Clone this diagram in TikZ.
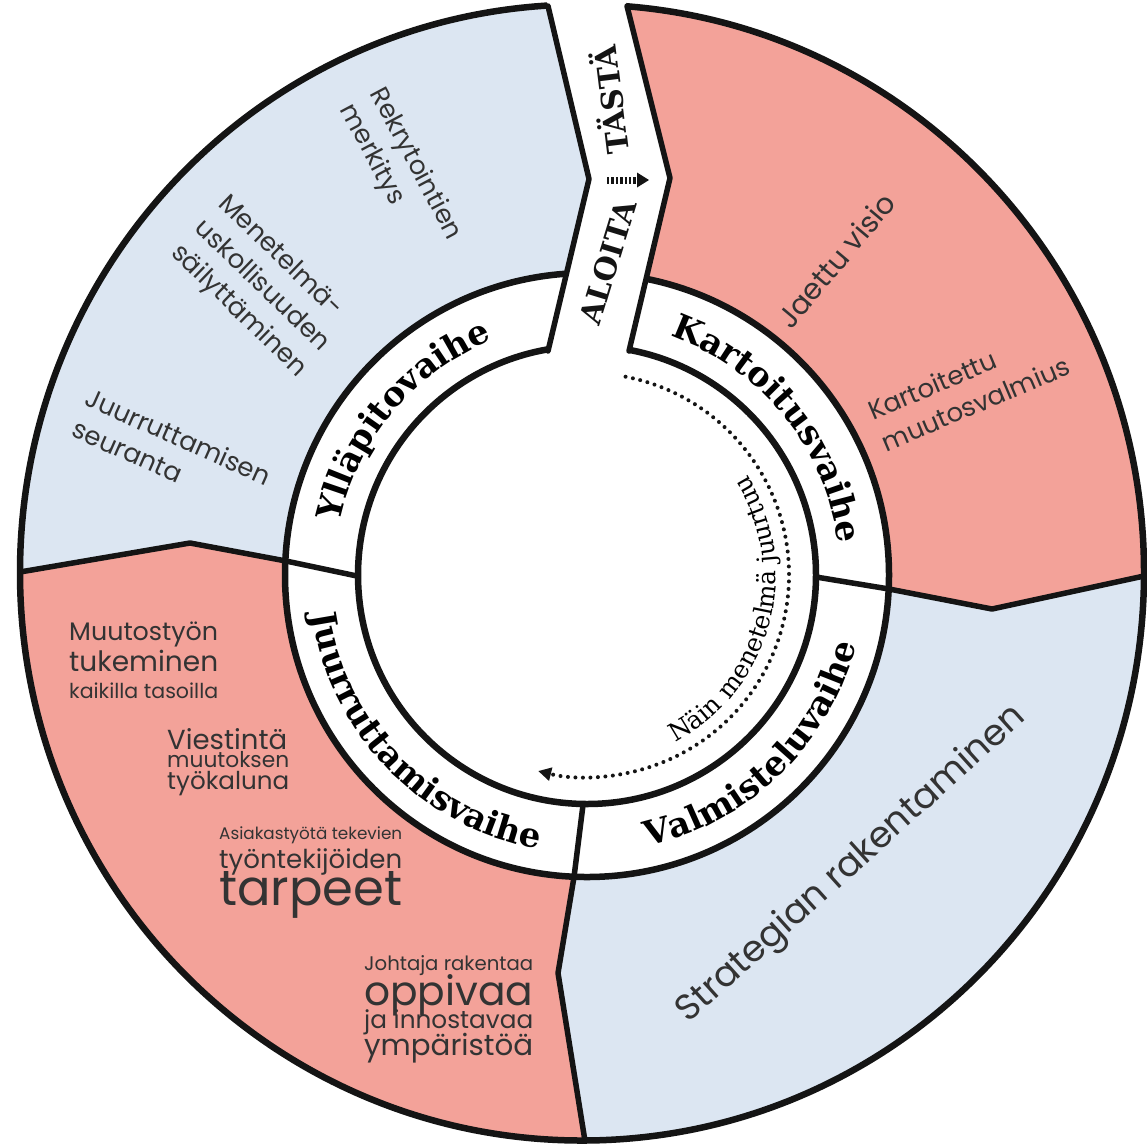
\documentclass[tikz,border=0pt]{standalone}
\usepackage{fontspec}
\usepackage{graphicx}
\setmainfont{Poppins}
\newfontfamily\serifface{DejaVu Serif}
\usetikzlibrary{decorations.text,arrows.meta}
\definecolor{bluefill}{HTML}{DCE6F2}
\definecolor{redfill}{HTML}{F3A299}
\definecolor{ink}{HTML}{141414}
\definecolor{txt}{HTML}{333333}
\newcommand\ringfont{\serifface\bfseries\fontsize{34}{34}\selectfont}
\newcommand\naefont{\serifface\fontsize{25}{25}\selectfont}
\begin{document}
\begin{tikzpicture}[x=1pt,y=-1pt,line join=round,
  ringline/.style={draw=ink,line width=6.5pt},
  divline/.style={draw=ink,line width=5.5pt,line cap=round},
  outertxt/.style={text=txt,font=\fontsize{26}{34}\selectfont,align=left,inner sep=0pt},
  linetxt/.style={text=txt,anchor=base west,inner sep=0pt},
  ringlabel/.style={decorate,decoration={text along path,text align=center,text={|\ringfont|#1}}},
  naelabel/.style={decorate,decoration={text along path,text align=center,text={|\naefont|#1}}},
  dotarc/.style={draw=ink,line width=4pt,line cap=round,dash pattern=on 0pt off 7.5pt,-{Triangle[length=13pt,width=13pt]}},
  starttxt/.style={font=\serifface\bfseries\fontsize{30}{30}\selectfont,text=ink,inner sep=0pt}
]
\useasboundingbox (0,0) rectangle (1147,1144);
\fill[white] (0,0) rectangle (1147,1144);
% key points
\coordinate (C) at (587,575);
\coordinate (E) at (582,572.5);
\coordinate (lA) at (20,572);
\coordinate (lB) at (190,543);
\coordinate (lC) at (286,561);
\coordinate (lD) at (357,576);
\coordinate (rA) at (816,577);
\coordinate (rB) at (889,589);
\coordinate (rC) at (992,609);
\coordinate (rD) at (1144,576);
\coordinate (bA) at (583,805);
\coordinate (bB) at (574,877);
\coordinate (bC) at (558,973);
\coordinate (bD) at (585,1141);
\coordinate (sL0) at (548,6);
\coordinate (sL1) at (589,179);
\coordinate (sL2) at (548,351);
\coordinate (sR0) at (627,6);
\coordinate (sR1) at (670,178);
\coordinate (sR2) at (629,351);
\coordinate (sLt) at (541,-24);
\coordinate (sRt) at (619.5,-24);
\coordinate (sLb) at (539.8,385.4);
\coordinate (sRb) at (620.8,385.6);
% coloured sectors
\begin{scope}
\clip (E) ellipse [x radius=562pt, y radius=568pt];
\fill[bluefill] (C) -- (lC) -- (lB) -- (lA) -- (-30,572) -- (-30,-30) -- (sLt) -- (sL0) -- (sL1) -- (sL2) -- cycle;
\fill[redfill] (C) -- (sR2) -- (sR1) -- (sR0) -- (sRt) -- (1180,-30) -- (1180,576) -- (rD) -- (rC) -- (rB) -- cycle;
\fill[bluefill] (C) -- (rB) -- (rC) -- (rD) -- (1180,576) -- (1180,1180) -- (591,1180) -- (bD) -- (bC) -- (bB) -- cycle;
\fill[redfill] (C) -- (bB) -- (bC) -- (bD) -- (591,1180) -- (-30,1180) -- (-30,572) -- (lA) -- (lB) -- (lC) -- cycle;
\end{scope}
\fill[white] (C) circle [radius=302pt];
% circles
\draw[ringline] (E) ellipse [x radius=562pt, y radius=568pt];
\draw[ringline] (C) circle [radius=302pt];
\draw[ringline] (C) circle [radius=229pt];
% open the start strip
\fill[white] (sLt) -- (sL0) -- (sL1) -- (sLb) -- (sRb) -- (sR1) -- (sR0) -- (sRt) -- cycle;
\draw[divline] (sL0) -- (sL1) -- (sL2);
\draw[divline] (sR0) -- (sR1) -- (sR2);
% dividers
\draw[divline] (lA) -- (lB) -- (lC) -- (lD);
\draw[divline] (rA) -- (rB) -- (rC) -- (rD);
\draw[divline] (bA) -- (bB) -- (bC) -- (bD);
% start strip text
\node[starttxt, rotate=73] (aloita) at (608,262) {ALOITA};
\node[starttxt, rotate=97] (tasta) at (609,100) {TÄSTÄ};
\coordinate (aS) at (607,180);
\coordinate (aM) at (637,180);
\coordinate (aT) at (649,180);
\draw[ink, line width=7pt, dash pattern=on 2.4pt off 2pt] (aS) -- (aM);
\fill[ink] (637,172.5) -- (aT) -- (637,187.5) -- cycle;
% ring labels
\path[ringlabel=Kartoitusvaihe] (C) ++(84:253pt) arc [start angle=84, end angle=-6, radius=253pt];
\path[ringlabel=Ylläpitovaihe] (C) ++(185:253pt) arc [start angle=185, end angle=95, radius=253pt];
\path[ringlabel=Valmisteluvaihe] (C) ++(-91:278pt) arc [start angle=-91, end angle=-1, radius=278pt];
\path[ringlabel=Juurruttamisvaihe] (C) ++(177:278pt) arc [start angle=177, end angle=271, radius=278pt];
% inner dotted arrow
\path (C) ++(79:202pt) coordinate (dS);
\draw[dotarc] (dS) arc [start angle=79, end angle=-104, radius=202pt];
\path[naelabel=Näin menetelmä juurtuu] (C) ++(-80:189pt) arc [start angle=-80, end angle=50, radius=189pt];
% outer texts
\node[outertxt, rotate=-62] (rekry) at (400,172) {Rekrytointien\\merkitys};
\node[outertxt, rotate=-44] (menet) at (262,287) {Menetelmä-\\uskollisuuden\\säilyttäminen};
\node[outertxt, rotate=-24] (juurr) at (172,452) {Juurruttamisen\\seuranta};
\node[outertxt, rotate=50, font=\fontsize{29}{34}\selectfont] (jaettu) at (836,260) {Jaettu visio};
\node[outertxt, rotate=23] (kartt) at (969,388) {Kartoitettu\\muutosvalmius};
\node[text=txt, inner sep=0pt, rotate=42] (strat) at (852,865) {\resizebox{455pt}{!}{Strategian rakentaminen}};
% bottom-left blocks
\node[linetxt] (m1) at (69,640) {\resizebox{149pt}{!}{Muutostyön}};
\node[linetxt] (m2) at (69,671) {\resizebox{149pt}{!}{tukeminen}};
\node[linetxt] (m3) at (69,698) {\resizebox{149pt}{!}{kaikilla tasoilla}};
\node[linetxt] (v1) at (167,749) {\resizebox{120pt}{!}{Viestintä}};
\node[linetxt] (v2) at (167,767) {\resizebox{122pt}{!}{muutoksen}};
\node[linetxt] (v3) at (167,789) {\resizebox{122pt}{!}{työkaluna}};
\node[linetxt] (t1) at (219,839) {\resizebox{183pt}{!}{Asiakastyötä tekevien}};
\node[linetxt] (t2) at (219,868) {\resizebox{183pt}{!}{työntekijöiden}};
\node[linetxt] (t3) at (219,905) {\resizebox{183pt}{!}{tarpeet}};
\node[linetxt] (j1) at (364,970) {\resizebox{169pt}{!}{Johtaja rakentaa}};
\node[linetxt] (j2) at (364,1005) {\resizebox{169pt}{!}{oppivaa}};
\node[linetxt] (j3) at (364,1028) {\resizebox{169pt}{!}{ja innostavaa}};
\node[linetxt] (j4) at (364,1055) {\resizebox{169pt}{!}{ympäristöä}};
\end{tikzpicture}
\end{document}
